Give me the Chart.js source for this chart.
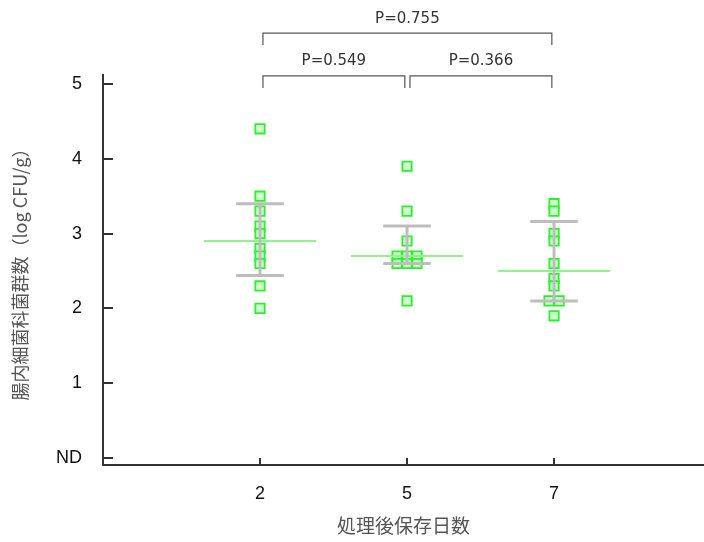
<!DOCTYPE html>
<html>
<head>
<meta charset="utf-8">
<script src="https://cdn.jsdelivr.net/npm/chart.js@4.4.0/dist/chart.umd.min.js"></script>
<style>
  html, body { margin: 0; padding: 0; background: #fff; }
  #wrap { width: 704px; height: 542px; }
</style>
</head>
<body>
<div id="wrap"><canvas id="c" width="704" height="542"></canvas></div>
<script>
// Storage days after treatment (categories) and log CFU/g per sample
const days = ['2', '5', '7'];
const day2 = [4.4, 3.5, 3.3, 3.1, 3.0, 2.8, 2.7, 2.6, 2.3, 2.0];
const day5 = [3.9, 3.3, 2.9, 2.7, 2.7, 2.7, 2.6, 2.6, 2.6, 2.1];
const day7 = [3.4, 3.3, 3.0, 2.9, 2.6, 2.4, 2.3, 2.1, 2.1, 1.9];

// Summary per day: centre line and whisker ends
const medians = [2.9, 2.7, 2.5];
const lowerBars = [2.44, 2.60, 2.10];
const upperBars = [3.40, 3.10, 3.16];

// Y axis ticks (0 = not detected)
const yTickValues = [0, 1, 2, 3, 4, 5];
const yTickLabels = ['ND', '1', '2', '3', '4', '5'];

// Pairwise comparisons (category indices), their P values and bracket heights
const comparisons = [[0, 1], [1, 2], [0, 2]];
const pValues = ['P=0.549', 'P=0.366', 'P=0.755'];
const bracketLevels = [5.107, 5.107, 5.68];

const groups = [day2, day5, day7];
const JITTER = 0.068;       // horizontal step between tied values
const MEDIAN_HALF = 0.382;  // half width of centre line
const CAP_HALF = 0.162;     // half width of whisker caps

// spread tied values side by side around the category position
const pointData = groups.flatMap((vals, gi) => {
  const counts = {}, seen = {};
  vals.forEach(v => { counts[v] = (counts[v] || 0) + 1; });
  return vals.map(v => {
    const k = seen[v] = (seen[v] === undefined ? 0 : seen[v] + 1);
    const off = (k - (counts[v] - 1) / 2) * JITTER;
    return { x: gi + 1 + off, y: v };
  });
});

const medianData = medians.flatMap((m, i) => [
  { x: i + 1 - MEDIAN_HALF, y: m },
  { x: i + 1 + MEDIAN_HALF, y: m },
  { x: i + 1, y: null }
]);

const barData = lowerBars.flatMap((lo, i) => {
  const hi = upperBars[i], c = i + 1;
  return [
    { x: c, y: lo }, { x: c, y: hi }, { x: c, y: null },
    { x: c - CAP_HALF, y: hi }, { x: c + CAP_HALF, y: hi }, { x: c, y: null },
    { x: c - CAP_HALF, y: lo }, { x: c + CAP_HALF, y: lo }, { x: c, y: null }
  ];
});

const AXIS_COLOR = '#333';

const annotate = {
  id: 'annotate',
  afterDraw(chart) {
    const { ctx, chartArea, scales: { x, y } } = chart;
    ctx.save();
    // inward tick marks
    ctx.strokeStyle = AXIS_COLOR;
    ctx.lineWidth = 2;
    yTickValues.forEach(v => {
      const py = Math.round(y.getPixelForValue(v));
      ctx.beginPath();
      ctx.moveTo(chartArea.left, py);
      ctx.lineTo(chartArea.left + 10, py);
      ctx.stroke();
    });
    days.forEach((d, i) => {
      const px = Math.round(x.getPixelForValue(i + 1));
      ctx.beginPath();
      ctx.moveTo(px, chartArea.bottom);
      ctx.lineTo(px, chartArea.bottom - 7);
      ctx.stroke();
    });
    // significance brackets
    ctx.strokeStyle = '#555';
    ctx.lineWidth = 1.2;
    ctx.fillStyle = '#333';
    ctx.font = '15px "DejaVu Sans"';
    ctx.textAlign = 'center';
    ctx.textBaseline = 'bottom';
    comparisons.forEach(([a, b], k) => {
      const x1 = x.getPixelForValue(a + 1 + 0.02);
      const x2 = x.getPixelForValue(b + 1 - 0.015);
      const yTop = y.getPixelForValue(bracketLevels[k]);
      const yEnd = y.getPixelForValue(bracketLevels[k] - 0.16);
      ctx.beginPath();
      ctx.moveTo(x1, yEnd);
      ctx.lineTo(x1, yTop);
      ctx.lineTo(x2, yTop);
      ctx.lineTo(x2, yEnd);
      ctx.stroke();
      ctx.fillText(pValues[k], (x1 + x2) / 2, yTop - 7);
    });
    ctx.restore();
  }
};

new Chart(document.getElementById('c'), {
  type: 'scatter',
  data: {
    datasets: [
      {
        label: 'whiskers',
        data: barData,
        showLine: true,
        spanGaps: false,
        borderColor: '#bdbdbd',
        borderWidth: 3,
        pointRadius: 0,
        order: 1
      },
      {
        label: 'median',
        data: medianData,
        showLine: true,
        spanGaps: false,
        borderColor: '#8ef58e',
        borderWidth: 2,
        pointRadius: 0,
        order: 2
      },
      {
        label: 'samples',
        data: pointData,
        pointStyle: 'rect',
        pointRadius: 6.6,
        pointBackgroundColor: 'rgba(200,255,200,0.85)',
        pointBorderColor: '#2cf02c',
        pointBorderWidth: 1.8,
        order: 3
      }
    ]
  },
  options: {
    responsive: false,
    animation: false,
    events: [],
    layout: { autoPadding: false, padding: { top: 75, right: 0, bottom: 0, left: 0 } },
    plugins: { legend: { display: false }, tooltip: { enabled: false } },
    scales: {
      x: {
        type: 'linear',
        min: -0.068,
        max: 4.02,
        afterBuildTicks: s => { s.ticks = days.map((d, i) => ({ value: i + 1 })); },
        afterFit: s => {
          s.height = 77;
          s.paddingLeft = 0; s.paddingRight = 0;
        },
        grid: { display: false, drawTicks: false },
        border: { display: true, color: AXIS_COLOR, width: 2 },
        ticks: {
          callback: v => days[v - 1],
          font: { family: '"Liberation Sans", Arial', size: 18 },
          color: '#111',
          padding: 18,
          maxRotation: 0
        },
        title: {
          display: true,
          text: '処理後保存日数',
          font: { family: '"Noto Sans CJK JP"', size: 19 },
          color: '#555',
          padding: { top: 4, bottom: 5 }
        }
      },
      y: {
        type: 'linear',
        min: -0.094,
        max: 5.12,
        afterBuildTicks: s => { s.ticks = yTickValues.map(v => ({ value: v })); },
        afterFit: s => {
          s.width = 103;
          s.paddingTop = 0; s.paddingBottom = 0;
        },
        grid: { display: false, drawTicks: false },
        border: { display: true, color: AXIS_COLOR, width: 2 },
        ticks: {
          callback: (v, i) => yTickLabels[i],
          font: { family: '"Liberation Sans", Arial', size: 18 },
          color: '#111',
          padding: 21
        },
        title: {
          display: true,
          text: '腸内細菌科菌群数（log CFU/g）',
          font: { family: '"Noto Sans CJK JP"', size: 18 },
          color: '#555',
          padding: { top: 9, bottom: 0 }
        }
      }
    }
  },
  plugins: [annotate]
});
</script>
</body>
</html>
